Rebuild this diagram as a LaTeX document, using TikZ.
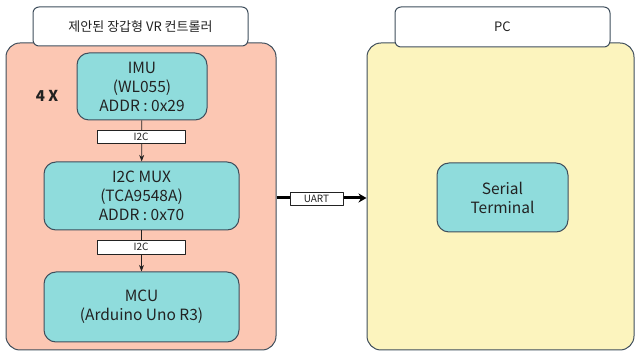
\documentclass[tikz,border=0pt]{standalone}
\usepackage{fontspec}
\setmainfont{Noto Sans CJK KR}
\usetikzlibrary{arrows.meta}
\definecolor{salmon}{HTML}{FCC7B3}
\definecolor{pale}{HTML}{FCF4BE}
\definecolor{teal}{HTML}{8FDCDC}
\definecolor{edge}{HTML}{3F4E5C}
\definecolor{ink}{HTML}{222222}
\tikzset{
	group/.style={draw=edge, line width=1pt, rounded corners=14pt},
	title/.style={draw=edge, line width=1pt, fill=white, rounded corners=6pt, font=\fontsize{13}{15}\selectfont, text=ink},
	block/.style={draw=edge, line width=1pt, fill=teal, rounded corners=12pt, align=center, font=\fontsize{15.5}{19}\selectfont, text=ink},
	bus/.style={draw=ink, line width=.8pt, fill=white, inner sep=0pt, font=\fontsize{10}{11}\selectfont, text=ink}
}
\begin{document}
\begin{tikzpicture}[x=1pt, y=-1pt, line join=round, >=Stealth]
	\useasboundingbox (0,0) rectangle (635,352);
	% left group
	\node[group, fill=salmon, minimum width=270pt, minimum height=307pt] (ctrl) at (141,196.5) {};
	\node[title, minimum width=215pt, minimum height=39pt] (ctrlT) at (140.5,26.5) {제안된 장갑형 VR 컨트롤러};
	\node[block, minimum width=130pt, minimum height=67pt] (imu) at (142,86.5) {IMU\\(WL055)\\ADDR : 0x29};
	\node[block, minimum width=195pt, minimum height=68pt] (mux) at (141.5,196) {I2C MUX\\(TCA9548A)\\ADDR : 0x70};
	\node[block, minimum width=195pt, minimum height=70pt] (mcu) at (141.5,307) {MCU\\(Arduino Uno R3)};
	\node[font=\fontsize{15}{17}\selectfont\bfseries, text=ink] (cnt) at (47,96) {4 X};
	% right group
	\node[group, fill=pale, minimum width=267pt, minimum height=307pt] (pc) at (500.5,196.5) {};
	\node[title, minimum width=215pt, minimum height=40pt] (pcT) at (502.5,27) {PC};
	\node[block, minimum width=131pt, minimum height=69pt] (term) at (502.5,197.5) {Serial\\Terminal};
	% buses
	\draw[->, draw=ink, line width=.8pt] (imu) -- (mux);
	\draw[->, draw=ink, line width=.8pt] (mux) -- (mcu);
	\node[bus, minimum width=88pt, minimum height=13pt] (i2cA) at (141,136.5) {I2C};
	\node[bus, minimum width=88pt, minimum height=14pt] (i2cB) at (141,247) {I2C};
	\draw[-{Stealth[length=8pt,width=9pt]}, draw=black, line width=3pt] (ctrl.east |- 0,198) -- (pc.west |- 0,198);
	\node[bus, minimum width=53pt, minimum height=13pt] (uart) at (316.5,198.5) {UART};
\end{tikzpicture}
\end{document}
